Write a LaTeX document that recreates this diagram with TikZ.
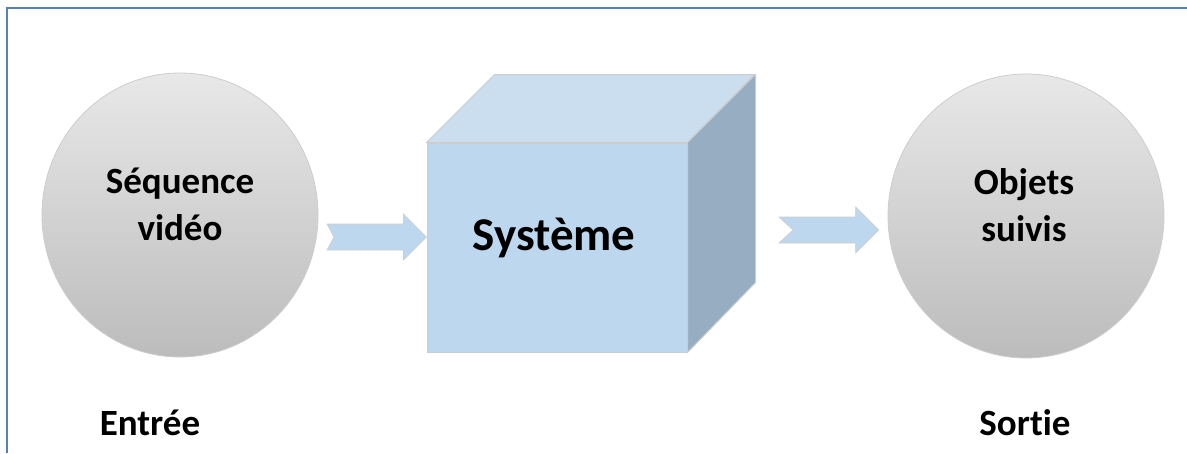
\documentclass[tikz,border=0pt]{standalone}
\usepackage{fontspec}
\setmainfont{Carlito}[Ligatures={NoCommon,NoRare,NoContextual}]
\usetikzlibrary{shapes.geometric,calc}

\definecolor{framecol}{RGB}{84,130,180}
\definecolor{facefront}{RGB}{189,215,238}
\definecolor{facetop}{RGB}{202,222,240}
\definecolor{faceside}{RGB}{151,173,194}
\definecolor{edgecol}{RGB}{205,205,205}

\tikzset{
    ball/.style={ellipse, draw=edgecol, line width=0.8pt, inner sep=0pt,
        minimum width=276pt, minimum height=284pt,
        top color={rgb,255:red,232;green,232;blue,232},
        bottom color={rgb,255:red,188;green,188;blue,188}},
    balltext/.style={align=center, font=\bfseries\fontsize{37}{47}\selectfont},
    sidetext/.style={font=\bfseries\fontsize{37}{44}\selectfont},
    face/.style={draw=edgecol, line width=1pt},
    fatarrow/.style={fill=facefront, draw=edgecol, line width=0.6pt, line join=miter}
}

% block arrow from #1 to #2, notch depth #3
\newcommand{\fatarrow}[3]{%
    \path[fatarrow] let \p1=(#1), \p2=(#2) in
        (\x1,\y1+13) -- (\x2-23,\y1+13) -- (\x2-23,\y1+23) -- (\x2,\y1)
        -- (\x2-23,\y1-23) -- (\x2-23,\y1-13) -- (\x1,\y1-13) -- (\x1+#3,\y1) -- cycle;}

\begin{document}
\begin{tikzpicture}[x=1pt, y=-1pt]
    \useasboundingbox (0,0) rectangle (1187,453);

    % Frame
    \draw[framecol, line width=2pt] (6.5,453) -- (6.5,7.5) -- (1187,7.5);

    % Input
    \node[ball] (in) at (180,215) {};
    \node[balltext] (intxt) at (180,204) {Séquence\\vidéo};

    % System cube
    \node[face, fill=facefront, minimum width=260pt, minimum height=209pt, inner sep=0pt] (sys) at (557,247.5) {};
    \draw[face, fill=facetop] (sys.north west) -- ++(68,-68) -- ++(260,0) -- (sys.north east) -- cycle;
    \draw[face, fill=faceside] (sys.north east) -- ++(68,-68) -- ($(sys.south east)+(68,-70)$) -- (sys.south east) -- cycle;
    \node[font=\bfseries\fontsize{47}{56}\selectfont] (systxt) at (554,238) {Système};

    % Output
    \node[ball] (out) at (1026,216) {};
    \node[balltext] (outtxt) at (1024,205) {Objets\\suivis};

    % Arrows
    \coordinate (ina) at (327,237);
    \coordinate (inb) at (sys.west |- ina);
    \coordinate (outa) at (779,230);
    \coordinate (outb) at ($(out.west |- outa)+(-9,0)$);
    \fatarrow{ina}{inb}{7}
    \fatarrow{outa}{outb}{14}

    % Labels
    \node[sidetext] (entree) at (150,423) {Entrée};
    \node[sidetext] (sortie) at (1025,423) {Sortie};
\end{tikzpicture}
\end{document}
